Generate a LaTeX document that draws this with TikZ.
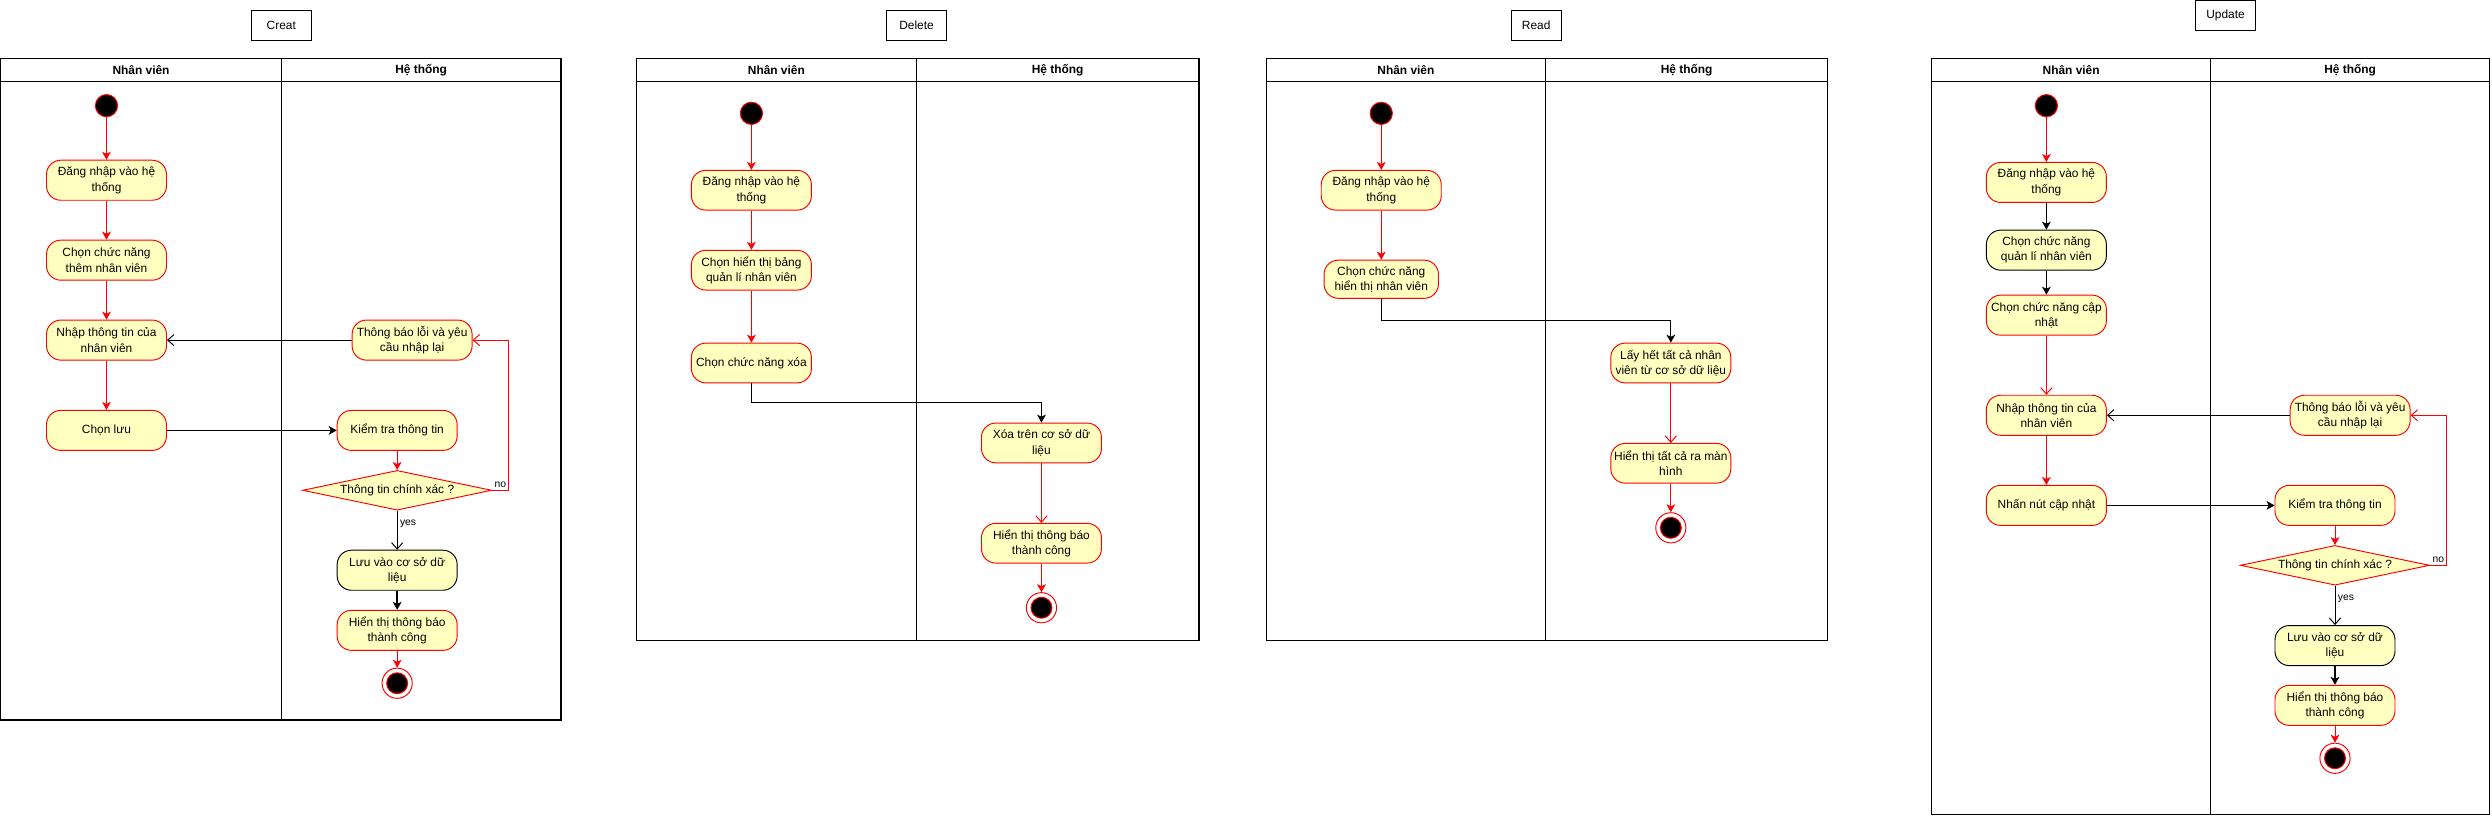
\documentclass[tikz,border=0pt]{standalone}
\usepackage{fontspec}
\setmainfont{Liberation Sans}
\usetikzlibrary{shapes.geometric,arrows.meta}
\definecolor{actfill}{HTML}{FFFFC0}
\newcommand{\txt}{\fontsize{7.5}{9.6}\selectfont}
\tikzset{
	act/.style={draw=red, fill=actfill, rounded corners=9pt, minimum width=75.5pt, minimum height=25.2pt, inner sep=1pt, align=center, font=\txt, line width=0.6pt},
	actk/.style={act, draw=black},
	startst/.style={circle, draw=red, fill=black, minimum size=14pt, inner sep=0pt, line width=0.6pt},
	stopst/.style={circle, draw=red, fill=white, minimum size=19pt, inner sep=0pt, line width=0.6pt,
		path picture={\filldraw[fill=black, draw=red, line width=0.6pt] (path picture bounding box.center) circle (6.6pt);}},
	cond/.style={diamond, draw=red, fill=actfill, aspect=4.76, minimum width=119pt, minimum height=25pt, inner sep=0pt, font=\txt, line width=0.6pt},
	titlebox/.style={draw=black, fill=white, minimum height=19pt, inner sep=0pt, font=\txt, line width=0.6pt},
	lane/.style={draw=black, line width=0.75pt},
	lanehd/.style={font=\bfseries\txt},
	rarr/.style={red, line width=0.6pt, -{Stealth[length=5pt, width=5.5pt, inset=1.3pt]}},
	rop/.style={red, line width=0.6pt, -{Straight Barb[length=4pt, width=7pt]}},
	karr/.style={black, line width=0.6pt, -{Stealth[length=5pt, width=5.5pt, inset=1.3pt]}},
	kthick/.style={karr, line width=1.1pt},
	kop/.style={black, line width=0.6pt, -{Straight Barb[length=4pt, width=7pt]}},
	lbl/.style={text=black, font=\fontsize{6.5}{8}\selectfont, inner sep=1.5pt},
}
\begin{document}
\begin{tikzpicture}[x=1pt, y=-1pt]
	\useasboundingbox (0,0) rectangle (1568,513.4);
	
	% Creat
	\node[titlebox, minimum width=38pt] (cT) at (177,16) {Creat};				% Titulo
	\draw[lane] (0.5,36.7) rectangle (353,453);									% Raias
	\draw[lane] (0.5,51.2) -- (353,51.2);
	\draw[lane] (177,36.7) -- (177,453);
	\node[lanehd] (cNV) at (88.75,44) {Nhân viên};
	\node[lanehd] (cHT) at (265,44) {Hệ thống};
	
	\node[startst] (cS) at (67,66.5) {};
	\node[act] (c1) at (67,113.4) {Đăng nhập vào hệ\\thống};
	\node[act] (c2) at (67,163.7) {Chọn chức năng\\thêm nhân viên};
	\node[act] (c3) at (67,214) {Nhập thông tin của\\nhân viên};
	\node[act] (c4) at (67,270.8) {Chọn lưu};
	\node[act] (cErr) at (259.3,214) {Thông báo lỗi và yêu\\cầu nhập lại};
	\node[act] (cK) at (249.9,270.8) {Kiểm tra thông tin};
	\node[cond] (cD) at (249.9,308.5) {Thông tin chính xác ?};
	\node[actk] (cL) at (249.9,358.8) {Lưu vào cơ sở dữ\\liệu};
	\node[act] (cH) at (249.9,396.6) {Hiển thị thông báo\\thành công};
	\node[stopst] (cE) at (249.9,429.9) {};
	
	% Ligacoes
	\draw[rarr] (cS) -- (c1);
	\draw[rarr] (c1) -- (c2);
	\draw[rarr] (c2) -- (c3);
	\draw[rarr] (c3) -- (c4);
	\draw[karr] (c4) -- (cK);
	\draw[rarr] (cK) -- (cD);
	\draw[kop] (cD) -- node[lbl, pos=0.33, right] {yes} (cL);
	\draw[kthick] (cL) -- (cH);
	\draw[rarr] (cH) -- (cE);
	\draw[rop] (cD.east) -- node[lbl, above] {no} ++(10.3,0) |- (cErr.east);
	\draw[kop] (cErr) -- (c3);
	
	% Delete
	\node[titlebox, minimum width=38pt] (dT) at (576.7,15.9) {Delete};
	\draw[lane] (400.5,36.8) rectangle (754.4,402.8);
	\draw[lane] (400.5,51.1) -- (754.4,51.1);
	\draw[lane] (576.6,36.8) -- (576.6,402.8);
	\node[lanehd] (dNV) at (488.5,44) {Nhân viên};
	\node[lanehd] (dHT) at (665.5,44) {Hệ thống};
	
	\node[startst] (dS) at (472.8,71.3) {};
	\node[act, minimum height=25pt] (d1) at (472.8,119.7) {Đăng nhập vào hệ\\thống};
	\node[act, minimum height=25pt] (d2) at (472.8,170) {Chọn hiển thị bảng\\quản lí nhân viên};
	\node[act, minimum height=25pt] (d3) at (472.8,228.4) {Chọn chức năng xóa};
	\node[act, minimum height=25pt] (dX) at (655.3,278.7) {Xóa trên cơ sở dữ\\liệu};
	\node[act, minimum height=25pt] (dH) at (655.3,341.8) {Hiển thị thông báo\\thành công};
	\node[stopst] (dE) at (655.3,382.4) {};
	\coordinate (dB) at (472.8,253.4);
	
	\draw[rarr] (dS) -- (d1);
	\draw[rarr] (d1) -- (d2);
	\draw[rarr] (d2) -- (d3);
	\draw[karr] (d3) -- (dB) -| (dX);
	\draw[rop] (dX) -- (dH);
	\draw[rarr] (dH) -- (dE);
	
	% Read
	\node[titlebox, minimum width=31.4pt] (rT) at (966.6,15.9) {Read};
	\draw[lane] (796.8,36.8) rectangle (1149.9,402.8);
	\draw[lane] (796.8,51.1) -- (1149.9,51.1);
	\draw[lane] (972.5,36.8) -- (972.5,402.8);
	\node[lanehd] (rNV) at (884.6,44) {Nhân viên};
	\node[lanehd] (rHT) at (1061.2,44) {Hệ thống};
	
	\node[startst] (rS) at (869.1,71.3) {};
	\node[act, minimum height=25pt] (r1) at (869.1,119.7) {Đăng nhập vào hệ\\thống};
	\node[act, minimum width=72pt, minimum height=24pt] (r2) at (869.1,175.7) {Chọn chức năng\\hiển thị nhân viên};
	\node[act, minimum height=25pt] (r3) at (1051.3,228.4) {Lấy hết tất cả nhân\\viên từ cơ sở dữ liệu};
	\node[act, minimum height=25pt] (r4) at (1051.3,291.5) {Hiển thị tất cả ra màn\\hình};
	\node[stopst] (rE) at (1051.3,332.1) {};
	\coordinate (rB) at (869.1,201.5);
	
	\draw[rarr] (rS) -- (r1);
	\draw[rarr] (r1) -- (r2);
	\draw[karr] (r2) -- (rB) -| (r3);
	\draw[rop] (r3) -- (r4);
	\draw[rarr] (r4) -- (rE);
	
	% Update
	\node[titlebox, minimum width=37.5pt] (uT) at (1400.3,9.8) {Update};
	\draw[lane] (1215.4,36.7) rectangle (1566.4,512.7);
	\draw[lane] (1215.4,51.2) -- (1566.4,51.2);
	\draw[lane] (1391,36.7) -- (1391,512.7);
	\node[lanehd] (uNV) at (1303.2,44) {Nhân viên};
	\node[lanehd] (uHT) at (1478.7,44) {Hệ thống};
	
	\node[startst] (uS) at (1287.6,66.5) {};
	\node[act] (u1) at (1287.6,114.8) {Đăng nhập vào hệ\\thống};
	\node[actk] (u2) at (1287.6,157.4) {Chọn chức năng\\quản lí nhân viên};
	\node[act] (u3) at (1287.6,198.3) {Chọn chức năng cập\\nhật};
	\node[act] (u4) at (1287.6,261.3) {Nhập thông tin của\\nhân viên};
	\node[act] (u5) at (1287.6,318) {Nhấn nút cập nhật};
	\node[act] (uErr) at (1478.7,261.3) {Thông báo lỗi và yêu\\cầu nhập lại};
	\node[act] (uK) at (1469.2,318) {Kiểm tra thông tin};
	\node[cond] (uD) at (1469.2,355.7) {Thông tin chính xác ?};
	\node[actk] (uL) at (1469.2,406.2) {Lưu vào cơ sở dữ\\liệu};
	\node[act] (uH) at (1469.2,443.8) {Hiển thị thông báo\\thành công};
	\node[stopst] (uE) at (1469.2,477.1) {};
	
	\draw[rarr] (uS) -- (u1);
	\draw[karr] (u1) -- (u2);
	\draw[karr] (u2) -- (u3);
	\draw[rop] (u3) -- (u4);
	\draw[rarr] (u4) -- (u5);
	\draw[karr] (u5) -- (uK);
	\draw[rarr] (uK) -- (uD);
	\draw[kop] (uD) -- node[lbl, pos=0.33, right] {yes} (uL);
	\draw[kthick] (uL) -- (uH);
	\draw[rarr] (uH) -- (uE);
	\draw[rop] (uD.east) -- node[lbl, above] {no} ++(10.5,0) |- (uErr.east);
	\draw[kop] (uErr) -- (u4);
\end{tikzpicture}
\end{document}
